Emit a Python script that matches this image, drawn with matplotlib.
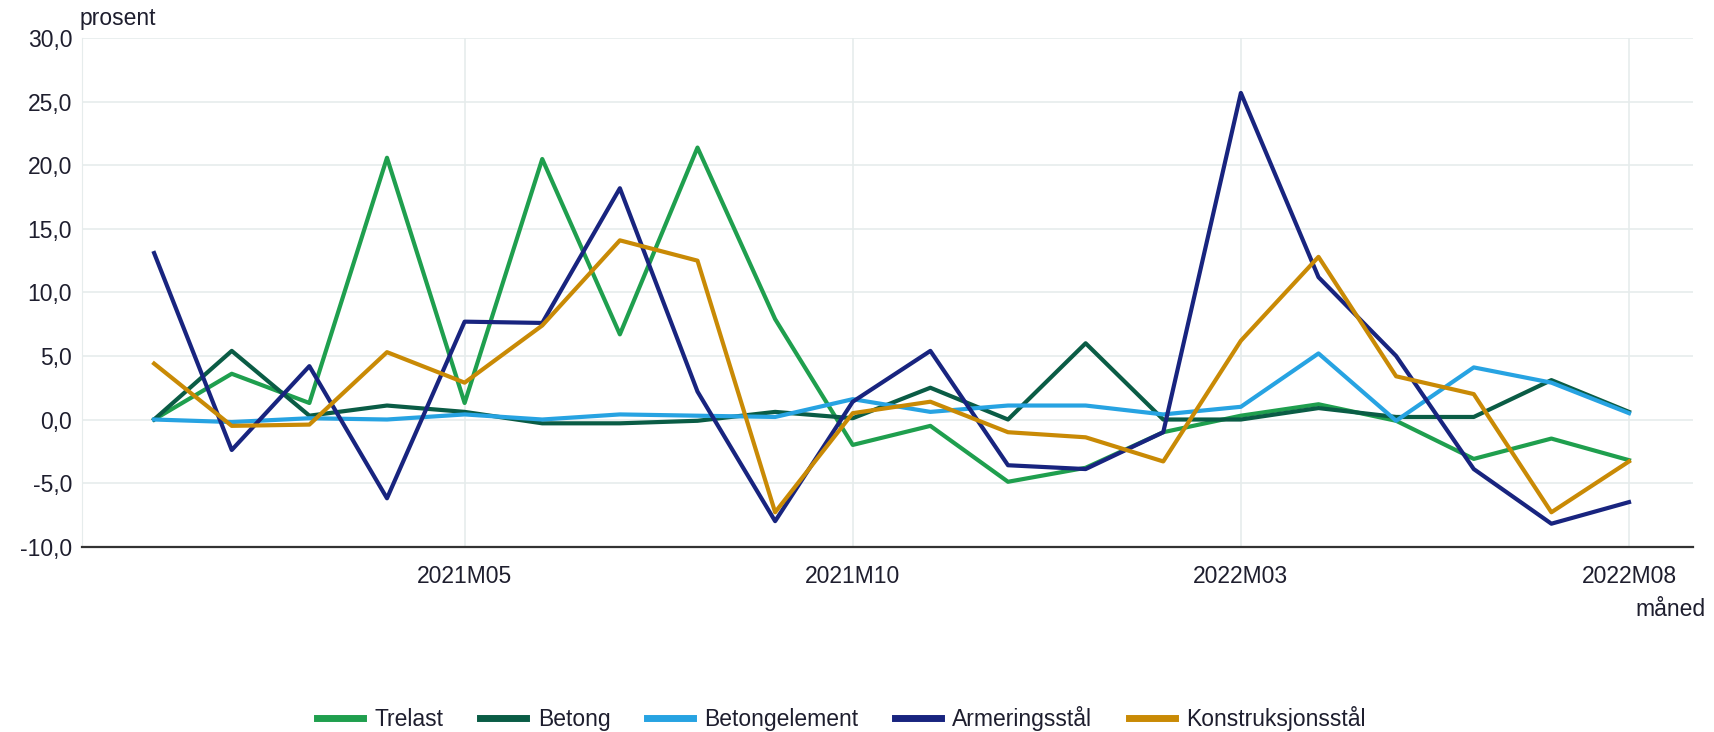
import numpy as np
import matplotlib
matplotlib.use("Agg")
import matplotlib.pyplot as plt

plt.rcParams['font.family'] = ['Liberation Sans', 'DejaVu Sans']

# months 2021M01 .. 2022M08
months = ["2021M%02d" % m for m in range(1, 13)] + ["2022M%02d" % m for m in range(1, 9)]
tick_labels = ["2021M05", "2021M10", "2022M03", "2022M08"]

trelast = [0.0, 3.6, 1.3, 20.6, 1.3, 20.5, 6.7, 21.4, 7.9, -2.0,
           -0.5, -4.9, -3.8, -1.0, 0.3, 1.2, -0.1, -3.1, -1.5, -3.2]
betong = [0.0, 5.4, 0.3, 1.1, 0.6, -0.3, -0.3, -0.1, 0.6, 0.1,
          2.5, 0.0, 6.0, 0.0, 0.0, 0.9, 0.2, 0.2, 3.1, 0.6]
betongelement = [0.0, -0.2, 0.1, 0.0, 0.4, 0.0, 0.4, 0.3, 0.2, 1.6,
                 0.6, 1.1, 1.1, 0.4, 1.0, 5.2, -0.1, 4.1, 2.9, 0.5]
armering = [13.1, -2.4, 4.2, -6.2, 7.7, 7.6, 18.2, 2.2, -8.0, 1.4,
            5.4, -3.6, -3.9, -1.0, 25.7, 11.2, 5.0, -3.9, -8.2, -6.5]
konstruksjon = [4.4, -0.5, -0.4, 5.3, 2.9, 7.4, 14.1, 12.5, -7.3, 0.5,
                1.4, -1.0, -1.4, -3.3, 6.2, 12.8, 3.4, 2.0, -7.3, -3.3]

series = [
    ("Trelast", trelast, "#1f9f4e"),
    ("Betong", betong, "#0a5c45"),
    ("Betongelement", betongelement, "#27a3e2"),
    ("Armeringsstål", armering, "#18247f"),
    ("Konstruksjonsstål", konstruksjon, "#c98a05"),
]

fs = 16.5
txt_col = "#1e1e2e"

fig = plt.figure(figsize=(17.14, 7.32), dpi=100)
ax = fig.add_axes([0.0478, 0.2533, 0.9402, 0.6944])

x = np.arange(len(months))
for name, vals, col in series:
    ax.plot(x, vals, color=col, lw=3.0, label=name)

ax.set_xlim(-0.93, 19.83)
ax.set_ylim(-10, 30)
ax.set_yticks(np.arange(-10, 31, 5))
ax.set_yticklabels([("%.1f" % v).replace(".", ",") for v in np.arange(-10, 31, 5)])
ax.set_xticks([months.index(t) for t in tick_labels])
ax.set_xticklabels(tick_labels)

ax.grid(True, color="#e6ecec", lw=1.2)
ax.set_axisbelow(True)
ax.tick_params(length=0, labelsize=fs, colors=txt_col)
ax.tick_params(axis='y', pad=7)
ax.tick_params(axis='x', pad=13)
for s in ["top", "right"]:
    ax.spines[s].set_visible(False)
ax.spines["left"].set_color("#e6ecec")
ax.spines["bottom"].set_color("#333333")
ax.spines["bottom"].set_linewidth(1.6)

fig.text(0.0467, 0.975, "prosent", fontsize=fs, color=txt_col, ha="left", va="center")
fig.text(0.995, 0.168, "måned", fontsize=fs, color=txt_col, ha="right", va="center")

leg = fig.legend(loc="center", bbox_to_anchor=(0.491, 0.018), ncol=5, frameon=False,
                 fontsize=fs, handlelength=2.0, columnspacing=1.6, handletextpad=0.5)
for h in leg.get_lines():
    h.set_linewidth(5)
for t in leg.get_texts():
    t.set_color(txt_col)

fig.savefig("out.png", dpi=100)
